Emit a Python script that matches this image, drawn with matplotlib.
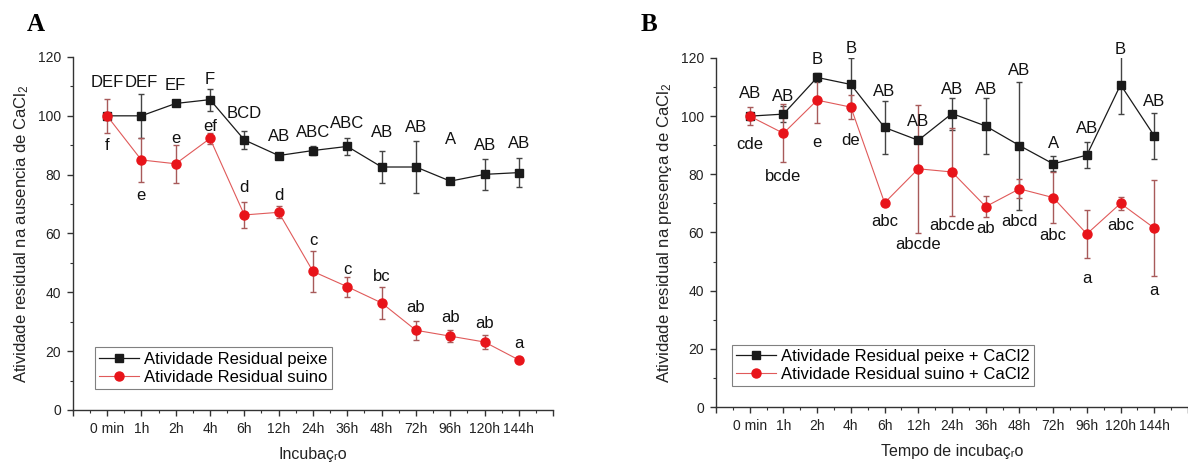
import numpy as np
import matplotlib
matplotlib.use("Agg")
import matplotlib.pyplot as plt

plt.rcParams['font.family'] = ['Liberation Sans', 'DejaVu Sans']
plt.rcParams['mathtext.fontset'] = 'custom'
plt.rcParams['mathtext.rm'] = 'Liberation Sans'
plt.rcParams['mathtext.default'] = 'regular'

# tempos de incubacao
tempos = ['0 min', '1h', '2h', '4h', '6h', '12h', '24h', '36h', '48h', '72h', '96h', '120h', '144h']

# painel A - sem CaCl2
a_peixe = [100, 100, 104.2, 105.5, 91.8, 86.5, 88.2, 89.6, 82.6, 82.6, 77.8, 80.1, 80.7]
a_peixe_err = [0, 7.4, 0.5, 3.7, 3.1, 0.8, 1.5, 2.9, 5.6, 8.9, 0.3, 5.2, 4.9]
a_suino = [100, 85, 83.7, 92.3, 66.3, 67.2, 47.1, 41.9, 36.4, 27.1, 25.1, 23.1, 17]
a_suino_err = [5.8, 7.5, 6.4, 1.8, 4.4, 2.0, 7.0, 3.4, 5.3, 3.2, 2.0, 2.4, 0.8]
a_letras_peixe = ['DEF', 'DEF', 'EF', 'F', 'BCD', 'AB', 'ABC', 'ABC', 'AB', 'AB', 'A', 'AB', 'AB']
a_pos_peixe = [111.4, 111.4, 110.2, 112.5, 100.7, 92.9, 94.5, 97.3, 94.2, 96, 92, 90, 90.5]
a_letras_suino = ['f', 'e', 'e', 'ef', 'd', 'd', 'c', 'c', 'bc', 'ab', 'ab', 'ab', 'a']
a_pos_suino = [90, 72.8, 92.3, 96.5, 75.6, 72.8, 57.7, 47.8, 45.3, 34.9, 31.5, 29.3, 22.5]

# painel B - com CaCl2
b_peixe = [100, 100.7, 113.3, 110.9, 96.1, 91.7, 100.9, 96.6, 89.9, 83.6, 86.6, 110.8, 93.2]
b_peixe_err = [0, 2.7, 1.5, 9.0, 9.0, 1.0, 5.5, 9.5, 22.0, 2.6, 4.5, 10.0, 8.0]
b_suino = [100, 94.1, 105.5, 103.1, 70.2, 81.9, 80.8, 68.9, 75, 72, 59.5, 70, 61.5]
b_suino_err = [3, 10, 8, 4, 0.5, 22, 15, 3.6, 3.3, 8.8, 8.2, 2.3, 16.5]
b_letras_peixe = ['AB', 'AB', 'B', 'B', 'AB', 'AB', 'AB', 'AB', 'AB', 'A', 'AB', 'B', 'AB']
b_pos_peixe = [107.7, 106.6, 119.4, 123.4, 108.5, 98.2, 109.1, 109.1, 115.6, 90.5, 95.9, 122.9, 105]
b_letras_suino = ['cde', 'bcde', 'e', 'de', 'abc', 'abcde', 'abcde', 'ab', 'abcd', 'abc', 'a', 'abc', 'a']
b_pos_suino = [90.1, 79.2, 90.9, 91.6, 63.7, 55.7, 62.5, 61.4, 63.7, 59.1, 44.3, 62.4, 40.2]


def draw_panel(ax, peixe, peixe_err, suino, suino_err, let_p, pos_p, let_s, pos_s,
               lab_p, lab_s, ylabel, xlabel, leg_x):
    x = np.arange(1, len(tempos) + 1)
    # barras de erro
    ax.errorbar(x, peixe, yerr=peixe_err, fmt='none', ecolor='#444444', elinewidth=1,
                capsize=2.5, capthick=1, zorder=2)
    ax.errorbar(x, suino, yerr=suino_err, fmt='none', ecolor='#a85a5a', elinewidth=1,
                capsize=2.5, capthick=1, zorder=2)
    # linhas e marcadores
    ax.plot(x, peixe, color='#1a1a1a', lw=0.9, marker='s', ms=5.5, label=lab_p, zorder=3)
    ax.plot(x, suino, color='#e05a5a', lw=0.8, marker='o', ms=6.5, mfc='#e8141a',
            mec='#e8141a', label=lab_s, zorder=4)

    # letras de significancia
    for xi, t, yi in zip(x, let_p, pos_p):
        ax.text(xi, yi, t, ha='center', va='center', fontsize=12, color='#111111', clip_on=False)
    for xi, t, yi in zip(x, let_s, pos_s):
        ax.text(xi, yi, t, ha='center', va='center', fontsize=12, color='#111111', clip_on=False)

    ax.set_xlim(0, 14)
    ax.set_ylim(0, 120)
    ax.set_xticks(np.arange(0, 15))
    ax.set_xticklabels([''] + tempos + [''])
    ax.set_xticks(np.arange(0.5, 14, 1), minor=True)
    ax.set_yticks(np.arange(0, 121, 20))
    ax.set_yticks(np.arange(10, 120, 20), minor=True)
    ax.spines['top'].set_visible(False)
    ax.spines['right'].set_visible(False)
    for s in ['left', 'bottom']:
        ax.spines[s].set_color('#333333')
        ax.spines[s].set_linewidth(1)
    ax.tick_params(which='major', length=4, width=1, pad=4.5, labelsize=10, color='#333333',
                   labelcolor='#222222')
    ax.tick_params(which='minor', length=2, width=0.8, color='#333333')

    ax.set_ylabel(ylabel, fontsize=12, labelpad=5, color='#222222')
    ax.set_xlabel(xlabel, fontsize=11.5, labelpad=8, color='#222222')

    leg = ax.legend(loc='lower left', bbox_to_anchor=(leg_x, 0.059), borderaxespad=0,
                    fontsize=12, fancybox=False, framealpha=1, edgecolor='#808080',
                    handlelength=2.4, handletextpad=0.3, borderpad=0.25, labelspacing=0.2)
    leg.get_frame().set_linewidth(0.8)


fig = plt.figure(figsize=(11.88, 4.66), dpi=100)
ax1 = fig.add_axes([0.0612, 0.1202, 0.4045, 0.7575])
ax2 = fig.add_axes([0.6027, 0.1266, 0.3973, 0.749])

draw_panel(ax1, a_peixe, a_peixe_err, a_suino, a_suino_err,
           a_letras_peixe, a_pos_peixe, a_letras_suino, a_pos_suino,
           'Atividade Residual peixe', 'Atividade Residual suino',
           r'Atividade residual na ausencia de CaCl$_2$', 'Incubaç\u1d63o', 0.046)
draw_panel(ax2, b_peixe, b_peixe_err, b_suino, b_suino_err,
           b_letras_peixe, b_pos_peixe, b_letras_suino, b_pos_suino,
           'Atividade Residual peixe + CaCl2', 'Atividade Residual suino + CaCl2',
           r'Atividade residual na presença de CaCl$_2$', 'Tempo de incubaç\u1d63o', 0.034)

# letras dos paineis
fig.text(0.0227, 0.934, 'A', family='Liberation Serif', weight='bold', fontsize=18, va='baseline')
fig.text(0.5396, 0.934, 'B', family='Liberation Serif', weight='bold', fontsize=18, va='baseline')

fig.savefig('out.png', dpi=100)
